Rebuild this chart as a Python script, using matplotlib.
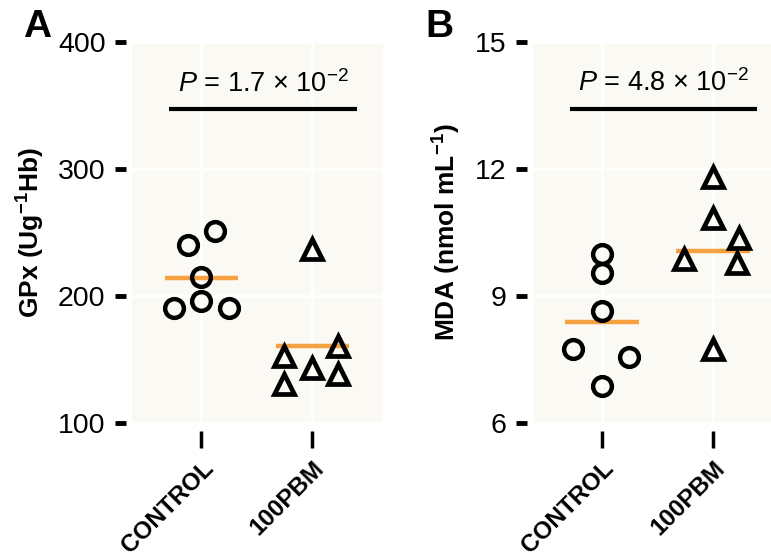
import numpy as np
import matplotlib
matplotlib.use('Agg')
import matplotlib.pyplot as plt

plt.rcParams['font.family'] = ['Liberation Sans', 'DejaVu Sans']
plt.rcParams['mathtext.fontset'] = 'custom'
plt.rcParams['mathtext.rm'] = 'Liberation Sans'
plt.rcParams['mathtext.it'] = 'Liberation Sans:italic'
plt.rcParams['mathtext.bf'] = 'Liberation Sans:bold'

# Data.
groups = ['CONTROL', '100PBM']

gpx_control = [239.8, 250.8, 215.3, 190.8, 196.4, 190.8]
gpx_control_dx = [-0.12, 0.12, 0.0, -0.25, 0.0, 0.25]
gpx_pbm = [237.4, 153.0, 143.5, 160.9, 130.9, 138.7]
gpx_pbm_dx = [0.0, -0.26, 0.0, 0.23, -0.26, 0.23]

mda_control = [10.0, 9.55, 8.65, 7.75, 7.56, 6.87]
mda_control_dx = [0.0, 0.0, 0.0, -0.26, 0.24, 0.0]
mda_pbm = [11.80, 10.85, 10.36, 9.88, 9.79, 7.75]
mda_pbm_dx = [0.0, 0.0, 0.23, -0.26, 0.22, 0.0]

p_text = ['1.7', '4.8']
p_bar_y = [347, 13.41]
p_text_y = [367, 14.03]

ylims = [(100, 400), (6, 15)]
yticks = [[100, 200, 300, 400], [6, 9, 12, 15]]
ylabels = [r'GPx (Ug$^{\mathbf{-1}}$Hb)', r'MDA (nmol mL$^{\mathbf{-1}}$)']
letters = ['A', 'B']

bg = '#FAF9F3'
orange = '#F5A142'

fig = plt.figure(figsize=(7.71, 5.6), dpi=100)
ax_a = fig.add_axes([132 / 771, 137 / 560, 251 / 771, 381 / 560])
ax_b = fig.add_axes([532.5 / 771, 137 / 560, 251 / 771, 381 / 560])

panels = [
    (ax_a, gpx_control, gpx_control_dx, gpx_pbm, gpx_pbm_dx),
    (ax_b, mda_control, mda_control_dx, mda_pbm, mda_pbm_dx),
]

for i, (ax, ctl, ctl_dx, pbm, pbm_dx) in enumerate(panels):
    ax.set_facecolor(bg)
    # move the (hidden) spines out first: this resets the tick settings
    for s in ax.spines.values():
        s.set_visible(False)
    ax.spines['left'].set_position(('outward', 4))
    ax.spines['bottom'].set_position(('outward', 6))

    ax.set_xlim(0.375, 2.635)
    ax.set_ylim(*ylims[i])
    ax.set_yticks(yticks[i])
    ax.set_xticks([1, 2])
    ax.set_xticklabels(groups, rotation=45, ha='right', va='top',
                       rotation_mode='anchor', fontweight='bold', fontsize=17.5)
    ax.grid(True, color='white', lw=2)
    ax.set_axisbelow(True)
    ax.tick_params(axis='y', length=8, width=3.5, labelsize=20.5, pad=7)
    ax.tick_params(axis='x', length=12, width=2.5, pad=6)

    # mean lines
    for x, vals in zip([1, 2], [ctl, pbm]):
        m = np.mean(vals)
        ax.plot([x - 0.33, x + 0.33], [m, m], color=orange, lw=3.2,
                solid_capstyle='butt', zorder=2)

    ax.plot(1 + np.array(ctl_dx), ctl, 'o', ms=13.5, mfc='none', mec='black',
            mew=3.2, zorder=3, clip_on=False)
    ax.plot(2 + np.array(pbm_dx), pbm, '^', ms=15, mfc='none', mec='black',
            mew=3.4, zorder=3, clip_on=False)

    # significance bar
    ax.plot([0.71, 2.40], [p_bar_y[i], p_bar_y[i]], color='black', lw=3,
            solid_capstyle='butt', zorder=3)
    ax.text(1.555, p_text_y[i],
            r'$\mathit{P}$ = ' + p_text[i] + r' $\times$ 10$^{-2}$',
            ha='center', va='center', fontsize=19.5)

    ax.set_ylabel(ylabels[i], fontweight='bold', fontsize=19, labelpad=8)

fig.text(23 / 771, 1 - 37 / 560, letters[0], fontsize=28, fontweight='bold',
         ha='left', va='baseline')
fig.text(425 / 771, 1 - 37 / 560, letters[1], fontsize=28, fontweight='bold',
         ha='left', va='baseline')

fig.savefig('out.png', dpi=100)
